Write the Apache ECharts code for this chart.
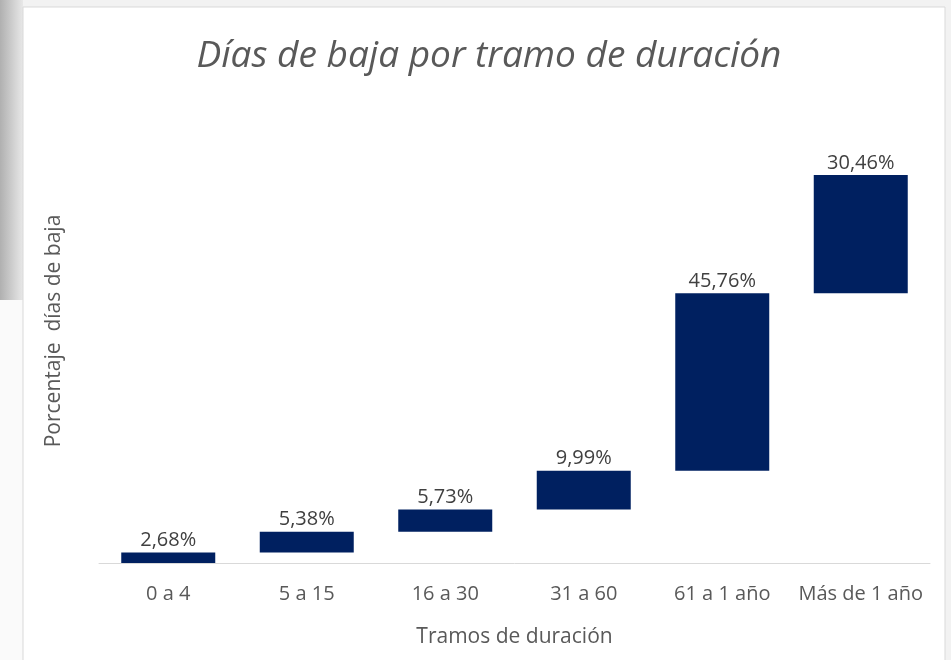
<!DOCTYPE html>
<html>
<head>
<meta charset="utf-8">
<script src="https://cdn.jsdelivr.net/npm/echarts@6/dist/echarts.min.js"></script>
<style>
html, body { margin: 0; padding: 0; background: #f2f2f2; }
#chart { width: 951px; height: 660px; }
</style>
</head>
<body>
<div id="chart"></div>
<script>
var categories = ['0 a 4', '5 a 15', '16 a 30', '31 a 60', '61 a 1 año', 'Más de 1 año'];
var values = [2.68, 5.38, 5.73, 9.99, 45.76, 30.46];

// base invisible de la cascada
var bases = [];
var acc = 0;
for (var i = 0; i < values.length; i++) {
    bases.push(+acc.toFixed(2));
    acc += values[i];
}

var chart = echarts.init(document.getElementById('chart'));

chart.setOption({
    animation: false,
    backgroundColor: '#f2f2f2',
    graphic: [
        {
            type: 'rect', z: -10, silent: true,
            shape: {x: 0, y: 0, width: 23, height: 300},
            style: {
                fill: new echarts.graphic.LinearGradient(0, 0, 1, 0, [
                    {offset: 0, color: '#b0b0b0'},
                    {offset: 1, color: '#e8e8e8'}
                ])
            }
        },
        {
            type: 'rect', z: -10, silent: true,
            shape: {x: 0, y: 300, width: 23, height: 360},
            style: {fill: '#fafafa'}
        },
        {
            type: 'rect', z: -9, silent: true,
            shape: {x: 23, y: 7, width: 922, height: 660},
            style: {fill: '#ffffff', stroke: '#d9d9d9', lineWidth: 1}
        },
        {
            type: 'text', silent: true,
            x: 54, y: 331, rotation: Math.PI / 2,
            style: {
                text: 'Porcentaje  días de baja',
                fill: '#595959',
                font: '21px "Open Sans", sans-serif',
                align: 'center',
                verticalAlign: 'middle'
            }
        }
    ],
    title: {
        text: 'Días de baja por tramo de duración',
        left: 484,
        top: 33,
        textAlign: 'center',
        textStyle: {
            color: '#595959',
            fontSize: 37,
            fontStyle: 'italic',
            fontWeight: 'normal',
            fontFamily: 'Open Sans'
        }
    },
    grid: {left: 99, right: 21, top: 175, bottom: 97},
    xAxis: {
        type: 'category',
        data: categories,
        name: 'Tramos de duración',
        nameLocation: 'middle',
        nameGap: 64,
        nameTextStyle: {color: '#595959', fontSize: 21, fontFamily: 'Open Sans'},
        axisLine: {lineStyle: {color: '#d9d9d9', width: 1}},
        axisTick: {show: false},
        axisLabel: {color: '#595959', fontSize: 20, margin: 21, interval: 0, fontFamily: 'Open Sans'}
    },
    yAxis: {
        type: 'value',
        min: 0,
        max: 100,
        show: false,
        splitLine: {show: false}
    },
    series: [
        {
            type: 'bar',
            stack: 'cascada',
            data: bases,
            itemStyle: {color: 'transparent'},
            silent: true,
            barWidth: 94
        },
        {
            type: 'bar',
            stack: 'cascada',
            data: values,
            barWidth: 94,
            itemStyle: {color: '#002060'},
            label: {
                show: true,
                position: 'top',
                distance: 2,
                color: '#404040',
                fontSize: 20,
                fontFamily: 'Open Sans',
                formatter: function (p) {
                    return p.value.toFixed(2).replace('.', ',') + '%';
                }
            }
        }
    ]
});
</script>
</body>
</html>
